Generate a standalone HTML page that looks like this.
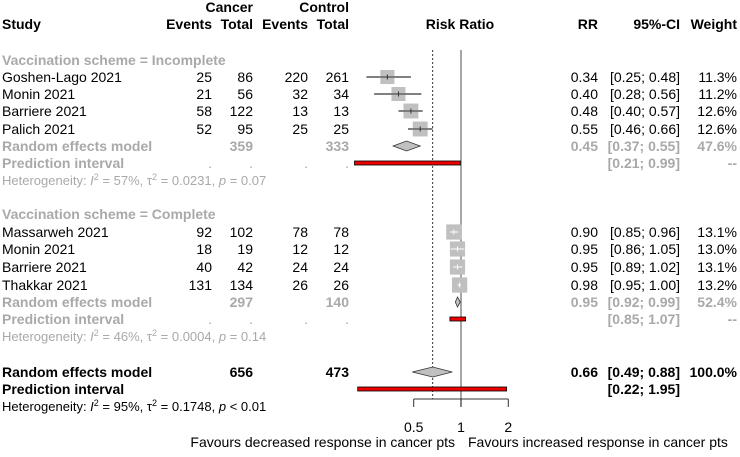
<!DOCTYPE html>
<html><head><meta charset="utf-8"><style>
body{margin:0;background:#fff}
svg text{font-family:"Liberation Sans",Arial,sans-serif;font-size:14px}
.b{font-weight:bold}.g{fill:#a9a9a9}.s{font-size:13px}
</style></head><body>
<svg id="c" width="740" height="452"></svg>
<script>
const studies=["Goshen-Lago 2021","Monin 2021","Barriere 2021","Palich 2021","Massarweh 2021","Monin 2021","Barriere 2021","Thakkar 2021"];
const evC=[25,21,58,52,92,18,40,131];
const totC=[86,56,122,95,102,19,42,134];
const evK=[220,32,13,25,78,12,24,26];
const totK=[261,34,13,25,78,12,24,26];
const rr=[0.34,0.40,0.48,0.55,0.90,0.95,0.95,0.98];
const lo=[0.25,0.28,0.40,0.46,0.85,0.86,0.89,0.95];
const hi=[0.48,0.56,0.57,0.66,0.96,1.05,1.02,1.00];
const wt=[11.3,11.2,12.6,12.6,13.1,13.0,13.1,13.2];
const grpRR=[0.45,0.95], grpLo=[0.37,0.92], grpHi=[0.55,0.99], grpW=["47.6%","52.4%"];
const grpPiLo=[0.21,0.85], grpPiHi=[0.99,1.07];
const grpTotC=[359,297], grpTotK=[333,140];
const allRR=0.66, allLo=0.49, allHi=0.88, allPiLo=0.22, allPiHi=1.95;
const ticks=[0.5,1,2];
const svg=document.getElementById('c');
const NS='http://www.w3.org/2000/svg';
const X=v=>461+47.3*Math.log2(v);
function el(t,a,p){const e=document.createElementNS(NS,t);for(const k in a)e.setAttribute(k,a[k]);(p||svg).appendChild(e);return e;}
function tx(s,x,y,anchor,cls,name){const e=el('text',{x:x,y:y+5,'text-anchor':anchor||'start',class:cls||''});e.textContent=s;

return e;}
const f2=v=>v.toFixed(2);
tx("Cancer",253,7,'end','b','cancer-header');
tx("Control",349,7,'end','b','control-header');
tx("Study",2,24,'start','b','study-header');
tx("Events",212,24,'end','b','cancer-events-header');
tx("Total",253,24,'end','b','cancer-total-header');
tx("Events",308,24,'end','b','control-events-header');
tx("Total",349,24,'end','b','control-total-header');
tx("Risk Ratio",460,24,'middle','b','risk-ratio-header');
tx("RR",598,24,'end','b','rr-header');
tx("95%-CI",680,24,'end','b','ci-header');
tx("Weight",737,24,'end','b','weight-header');
let l=el('line',{x1:X(1),x2:X(1),y1:50,y2:407,stroke:'#777','stroke-width':1.3});


l=el('line',{x1:X(allRR),x2:X(allRR),y1:50,y2:399,stroke:'#333','stroke-dasharray':'2,2'});


const rowY=[[77,94,111,129],[232,249,267,285]];
const grpHead=[60,214],grpRE=[146,302],grpPI=[163,319],grpHet=[181,337];
const grpNames=["Vaccination scheme = Incomplete","Vaccination scheme = Complete"];
const hets=[["57%","0.0231","= 0.07"],["46%","0.0004","= 0.14"]];
function diamond(r,a,b,y,name){const p=el('polygon',{points:`${X(a)},${y} ${X(r)},${y-5} ${X(b)},${y} ${X(r)},${y+5}`,fill:'#c0c0c0',stroke:'#333','stroke-width':0.8});

}
function pi(a,b,y,name){const r=el('rect',{x:X(a),y:y-2,width:X(b)-X(a),height:4,fill:'#e00',stroke:'#000','stroke-width':0.8});

}
function het(i2,t2,p,y,cls,name){const e=el('text',{x:2,y:y+4,class:'s '+cls});


e.innerHTML=`Heterogeneity: <tspan font-style="italic">I</tspan><tspan dy="-5" font-size="9">2</tspan><tspan dy="5"> = ${i2}, τ</tspan><tspan dy="-5" font-size="9">2</tspan><tspan dy="5"> = ${t2}, </tspan><tspan font-style="italic">p</tspan> ${p}`;}
for(let g=0;g<2;g++){
 tx(grpNames[g],2,grpHead[g],'start','b g','subgroup-header');
 for(let j=0;j<4;j++){const i=g*4+j,y=rowY[g][j];
  tx(studies[i],2,y,'start','','study-name');
  tx(String(evC[i]),212,y,'end','','cancer-events');
  tx(String(totC[i]),253,y,'end','','cancer-total');
  tx(String(evK[i]),308,y,'end','','control-events');
  tx(String(totK[i]),349,y,'end','','control-total');
  tx(f2(rr[i]),598,y,'end','','rr-value');
  tx(`[${f2(lo[i])}; ${f2(hi[i])}]`,680,y,'end','','ci-value');
  tx(wt[i].toFixed(1)+'%',737,y,'end','','weight-value');
  const s=4.2*Math.sqrt(wt[i]),cx=X(rr[i]);
  let ln=el('line',{x1:X(lo[i]),x2:X(hi[i]),y1:y,y2:y,stroke:'#000'});
  
  
  let sq=el('rect',{x:cx-s/2,y:y-s/2,width:s,height:s,fill:'#c0c0c0'});
  
  
  const inside=X(lo[i])>cx-s/2&&X(hi[i])<cx+s/2;
  ln=el('line',{x1:Math.max(X(lo[i]),cx-s/2),x2:Math.min(X(hi[i]),cx+s/2),y1:y,y2:y,stroke:inside?'#fff':'#333'});
  
  
  ln=el('line',{x1:cx,x2:cx,y1:y-2.5,y2:y+2.5,stroke:inside?'#fff':'#333'});
  
  
 }
 const y=grpRE[g];
 tx("Random effects model",2,y,'start','b g','subgroup-re-label');
 tx(String(grpTotC[g]),253,y,'end','b g','subgroup-cancer-total');
 tx(String(grpTotK[g]),349,y,'end','b g','subgroup-control-total');
 tx(f2(grpRR[g]),598,y,'end','b g','subgroup-rr');
 tx(`[${f2(grpLo[g])}; ${f2(grpHi[g])}]`,680,y,'end','b g','subgroup-ci');
 tx(grpW[g],737,y,'end','b g','subgroup-weight');
 diamond(grpRR[g],grpLo[g],grpHi[g],y,'subgroup-diamond');
 const yp=grpPI[g];
 tx("Prediction interval",2,yp,'start','b g','subgroup-pi-label');
 for(const xx of [212,253,308,349]) tx(".",xx,yp,'end','g','dot');
 tx(`[${f2(grpPiLo[g])}; ${f2(grpPiHi[g])}]`,680,yp,'end','b g','subgroup-pi');
 tx("--",737,yp,'end','b g','subgroup-pi-weight');
 pi(grpPiLo[g],grpPiHi[g],yp,'subgroup-prediction-bar');
 het(hets[g][0],hets[g][1],hets[g][2],grpHet[g],'g','subgroup-heterogeneity');
}
tx("Random effects model",2,372,'start','b','overall-re-label');
tx("656",253,372,'end','b','overall-cancer-total');
tx("473",349,372,'end','b','overall-control-total');
tx(f2(allRR),598,372,'end','b','overall-rr');
tx(`[${f2(allLo)}; ${f2(allHi)}]`,680,372,'end','b','overall-ci');
tx("100.0%",737,372,'end','b','overall-weight');
diamond(allRR,allLo,allHi,372,'overall-diamond');
tx("Prediction interval",2,389,'start','b','overall-pi-label');
tx(`[${f2(allPiLo)}; ${f2(allPiHi)}]`,680,389,'end','b','overall-pi');
pi(allPiLo,allPiHi,389,'overall-prediction-bar');
het("95%","0.1748","&lt; 0.01",407,'','overall-heterogeneity');
l=el('line',{x1:X(ticks[0]),x2:X(ticks[ticks.length-1]),y1:399,y2:399,stroke:'#333'});


for(const t of ticks){
 l=el('line',{x1:X(t),x2:X(t),y1:399,y2:407,stroke:'#333'});
 
 
 tx(String(t),X(t),427,'middle','','x-tick-label');
}
tx("Favours decreased response in cancer pts",455,442,'end','','favours-left-label');
tx("Favours increased response in cancer pts",468,442,'start','','favours-right-label');
</script>
</body></html>
